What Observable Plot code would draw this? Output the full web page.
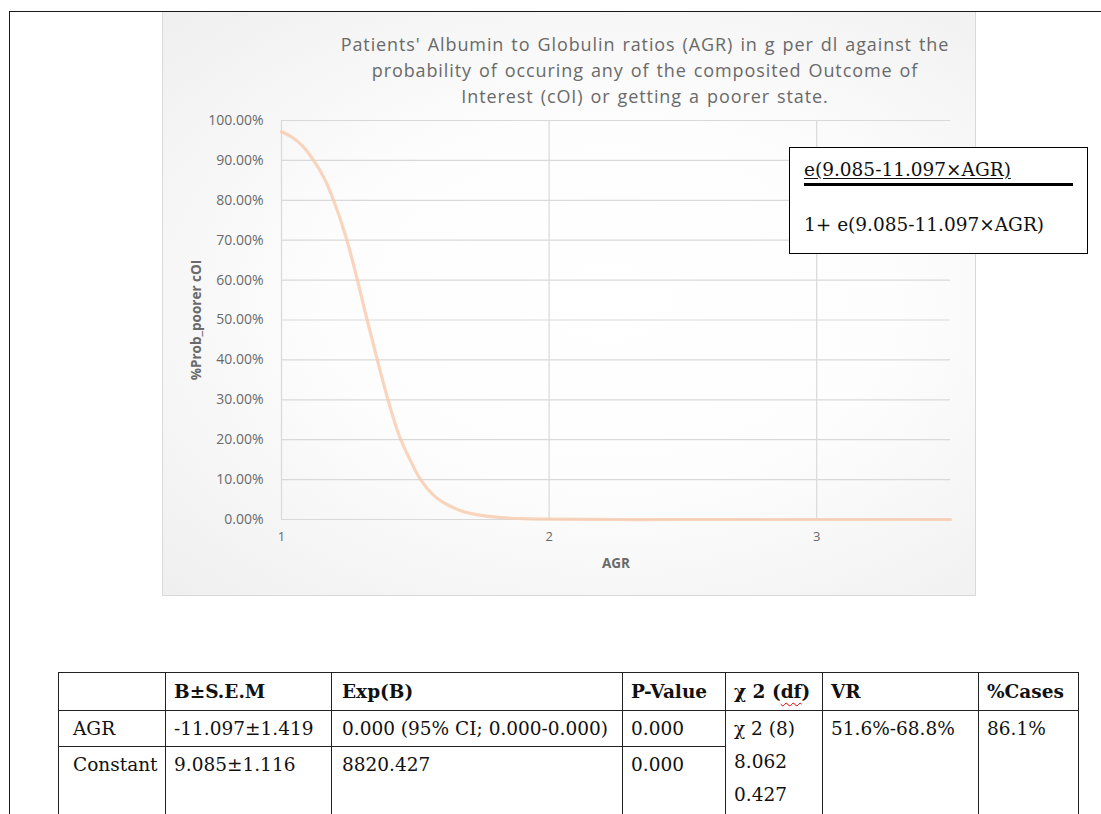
<!DOCTYPE html>
<html><head><meta charset="utf-8">
<script src="https://cdn.jsdelivr.net/npm/d3@7"></script>
<script src="https://cdn.jsdelivr.net/npm/@observablehq/plot@0.6"></script>
<style>
html,body{margin:0;padding:0;width:1101px;height:814px;overflow:hidden;background:#fff;}
#page{position:absolute;left:9px;top:11px;width:1200px;height:900px;border-left:1.5px solid #1a1a1a;border-top:1.5px solid #1a1a1a;}
#chartbox{position:absolute;left:162px;top:12px;width:812px;height:583px;border:1px solid #d9d9d9;border-top:none;
  background:radial-gradient(ellipse farthest-corner at 55% 50%, #ffffff 0%, #fdfdfd 45%, #efefef 100%);}
#plot{position:absolute;left:162px;top:12px;}
#title{position:absolute;left:255px;top:31px;width:780px;text-align:center;font-family:"Open Sans";font-size:18px;line-height:26px;color:#6a6a6a;letter-spacing:0.9px;word-spacing:1.5px;}
#formula{position:absolute;left:789px;top:147px;width:297px;height:105px;border:1px solid #000;background:#fff;font-family:"DejaVu Serif",serif;font-size:18.5px;color:#111;}
#formula .l1{position:absolute;left:14px;top:10px;line-height:24px;text-decoration:underline;text-underline-offset:2px;}
#formula .bar{position:absolute;left:14px;top:35px;width:269px;height:2.5px;background:#000;}
#formula .l2{position:absolute;left:14px;top:65px;line-height:24px;}
table{position:absolute;left:58px;top:672px;border-collapse:collapse;table-layout:fixed;width:1020px;font-family:"DejaVu Serif",serif;font-size:18.5px;color:#111;}
td{border:1.5px solid #222;padding:0 0 0 8px;white-space:nowrap;overflow:hidden;}
tr.h td{height:37px;vertical-align:middle;font-weight:bold;}
tr.r1 td{height:35px;vertical-align:middle;}
tr.r1 td.m{vertical-align:top;line-height:33px;padding-top:1px;}
tr.r2 td{height:90px;vertical-align:top;padding-top:6px;line-height:24px;}
td.c1{padding-left:14px;}
td.c3{padding-left:10px;}
.wavy{text-decoration:underline wavy #e00000;text-decoration-thickness:1px;text-underline-offset:4px;}
</style></head>
<body>
<div id="page"></div>
<div id="chartbox"></div>
<div id="plot"></div>
<div id="title">Patients' Albumin to Globulin ratios (AGR) in g per dl against the<br>probability of occuring any of the composited Outcome of<br>Interest (cOI) or getting a poorer state.</div>
<div id="formula"><div class="l1">e(9.085-11.097×AGR)</div><div class="bar"></div><div class="l2">1+ e(9.085-11.097×AGR)</div></div>
<table>
<colgroup><col style="width:107px"><col style="width:166px"><col style="width:291px"><col style="width:103px"><col style="width:97px"><col style="width:156px"><col style="width:100px"></colgroup>
<tr class="h"><td class="c1"></td><td>B±S.E.M</td><td class="c3">Exp(B)</td><td>P-Value</td><td>χ 2 (<span class="wavy">df</span>)</td><td>VR</td><td>%Cases</td></tr>
<tr class="r1"><td class="c1">AGR</td><td>-11.097±1.419</td><td class="c3">0.000 (95% CI; 0.000-0.000)</td><td>0.000</td><td class="m" rowspan="2">χ 2 (8)<br>8.062<br>0.427</td><td class="m" rowspan="2">51.6%-68.8%</td><td class="m" rowspan="2">86.1%</td></tr>
<tr class="r2"><td class="c1">Constant</td><td>9.085±1.116</td><td class="c3">8820.427</td><td>0.000</td></tr>
</table>
<script>
// AGR values (x) and predicted probability of poorer cOI (y)
const agr  = [1.00, 1.04, 1.08, 1.12, 1.16, 1.20, 1.24, 1.28, 1.32, 1.36, 1.40, 1.44, 1.48, 1.52, 1.57, 1.62, 1.67, 1.74, 1.82, 1.90, 2.00, 2.25, 2.50, 3.00, 3.50];
const prob = [0.972, 0.958, 0.935, 0.90, 0.855, 0.79, 0.71, 0.61, 0.50, 0.395, 0.295, 0.21, 0.15, 0.10, 0.06, 0.037, 0.022, 0.011, 0.005, 0.002, 0.001, 0, 0, 0, 0];
const xTicks = [1, 2, 3];
const yTicks = [0, 0.1, 0.2, 0.3, 0.4, 0.5, 0.6, 0.7, 0.8, 0.9, 1.0];

const data = agr.map((x, i) => ({agr: x, p: prob[i]}));
const pct = d3.format(".2%");

const chart = Plot.plot({
  width: 813,
  height: 584,
  marginLeft: 119,
  marginRight: 25,
  marginTop: 108,
  marginBottom: 77,
  style: {background: "transparent", fontFamily: "Open Sans", fontSize: "13px", color: "#6a6a6a", overflow: "visible"},
  x: {domain: [1, 3.5]},
  y: {domain: [0, 1]},
  marks: [
    Plot.gridY(yTicks, {stroke: "#d9d9d9", strokeOpacity: 1, strokeWidth: 1.2}),
    Plot.gridX(xTicks, {stroke: "#d9d9d9", strokeOpacity: 1, strokeWidth: 1.2}),
    Plot.axisY(yTicks, {tickSize: 0, tickPadding: 18, tickFormat: pct, fill: "#6a6a6a", fontSize: 14,
      label: "%Prob_poorer cOI", labelAnchor: "center", labelArrow: "none", labelOffset: 90}),
    Plot.axisX(xTicks, {tickSize: 0, tickPadding: 12, tickFormat: d3.format("d"), fill: "#6a6a6a", fontSize: 13,
      label: "AGR", labelAnchor: "center", labelArrow: "none", labelOffset: 48}),
    Plot.line(data, {x: "agr", y: "p", stroke: "#f8cbad", strokeOpacity: 0.8, strokeWidth: 3.2, curve: "catmull-rom"})
  ]
});
d3.select(chart).selectAll("[aria-label='y-axis label'] text, [aria-label='x-axis label'] text")
  .style("font-weight", "bold").style("font-size", "13.5px").attr("fill", "#6a6a6a");
document.getElementById("plot").appendChild(chart);
</script>
</body></html>
